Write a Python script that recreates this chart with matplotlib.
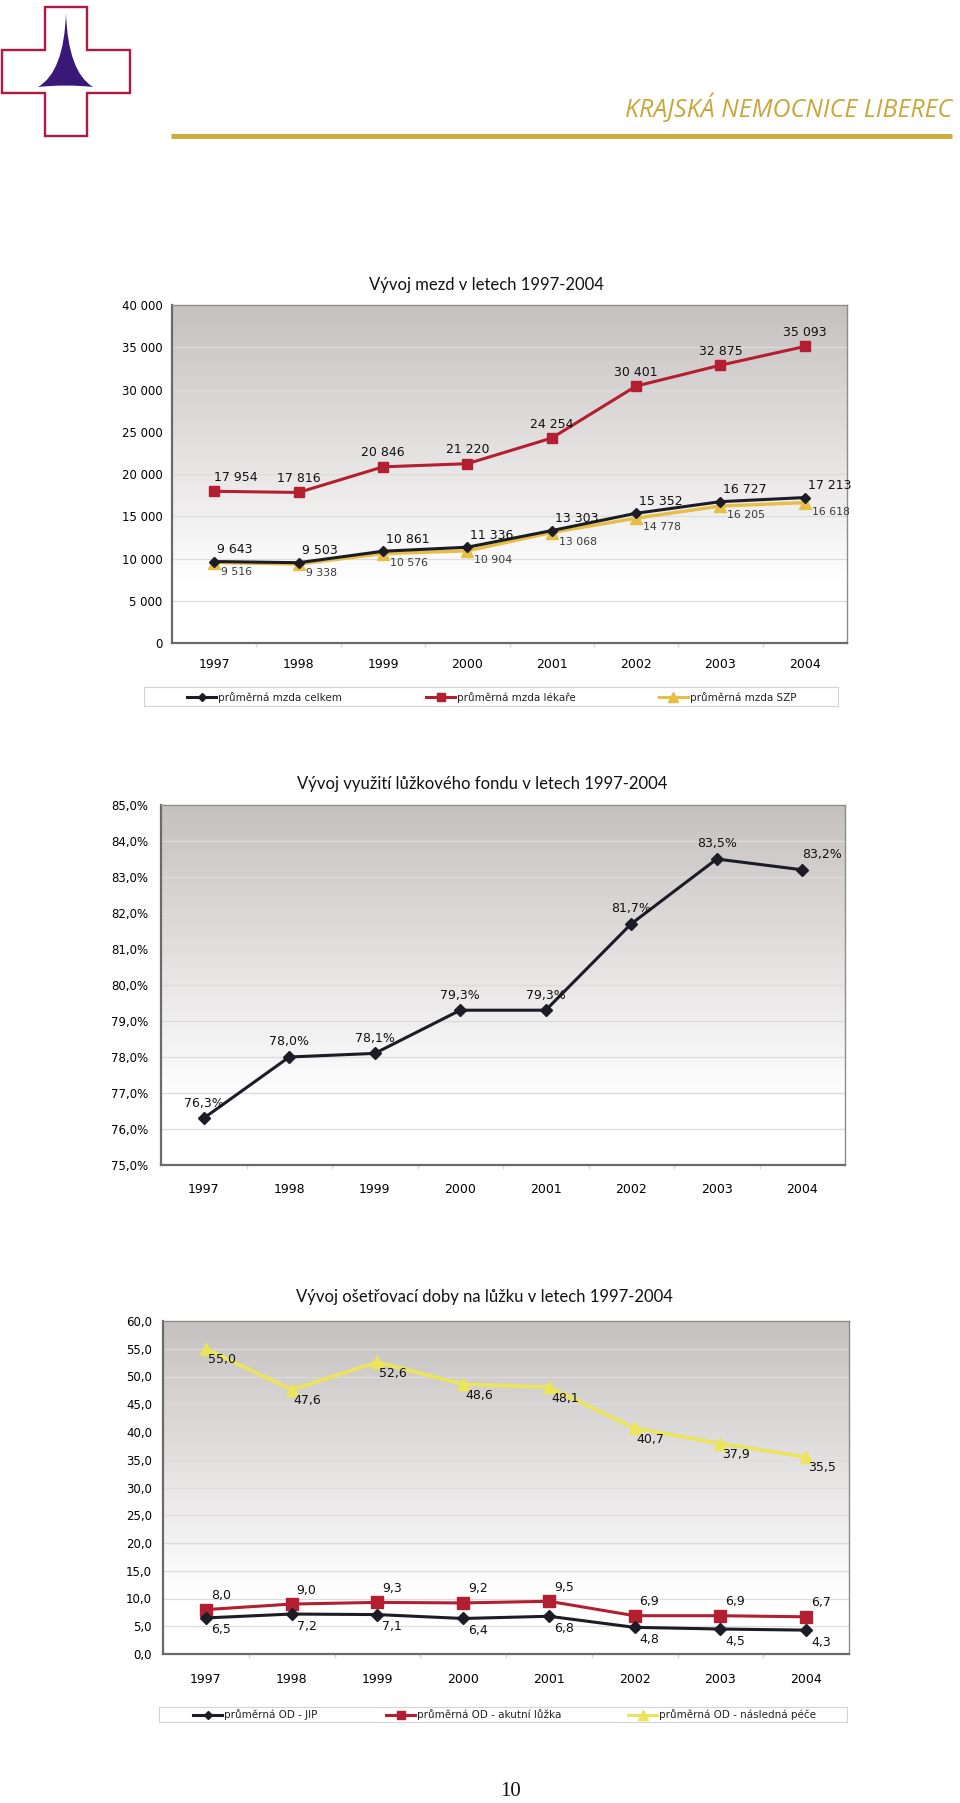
#!/usr/bin/env python
# -*- coding: utf-8 -*-

"""Three yearly charts of Krajska nemocnice Liberec (page 10)."""

import numpy as np
import matplotlib
matplotlib.use("Agg")
import matplotlib.pyplot as plt
from matplotlib.colors import LinearSegmentedColormap
from matplotlib.patches import Polygon, PathPatch
from matplotlib.path import Path
from matplotlib.ticker import FuncFormatter, FixedLocator

plt.rcParams['font.family'] = ['DejaVu Sans']

W, H = 960, 1803

years = ['1997', '1998', '1999', '2000', '2001', '2002', '2003', '2004']

# chart 1 - wages
mzda_celkem = [9643, 9503, 10861, 11336, 13303, 15352, 16727, 17213]
mzda_lekare = [17954, 17816, 20846, 21220, 24254, 30401, 32875, 35093]
mzda_szp = [9516, 9338, 10576, 10904, 13068, 14778, 16205, 16618]

# chart 2 - bed occupancy (%)
vyuziti = [76.3, 78.0, 78.1, 79.3, 79.3, 81.7, 83.5, 83.2]

# chart 3 - average treatment time
od_jip = [6.5, 7.2, 7.1, 6.4, 6.8, 4.8, 4.5, 4.3]
od_akutni = [8.0, 9.0, 9.3, 9.2, 9.5, 6.9, 6.9, 6.7]
od_nasledna = [55.0, 47.6, 52.6, 48.6, 48.1, 40.7, 37.9, 35.5]

BLACK = '#1c1c26'
RED = '#b31f30'
GOLD = '#e6bd45'
YELLOW = '#ece45a'

bg_cmap = LinearSegmentedColormap.from_list(
    'bg', [(0, '#c5c1c0'), (0.82, '#ffffff'), (1, '#ffffff')])


def rect(l, t, r, b):
    """Pixel box -> figure fraction rect."""
    return [l / W, 1 - b / H, (r - l) / W, (b - t) / H]


def thousands(v, pos=None):
    return f'{int(round(v)):,}'.replace(',', ' ')


def comma1(v, pos=None):
    return f'{v:.1f}'.replace('.', ',')


def percent1(v, pos=None):
    return comma1(v) + '%'


def setup_axes(box, ylim, ystep, fmt, ypad, xpad):
    ax = fig.add_axes(rect(*box))
    ax.imshow(np.linspace(0, 1, 256).reshape(-1, 1), extent=[0, 1, 0, 1],
              transform=ax.transAxes, aspect='auto', cmap=bg_cmap, zorder=0)
    x = np.arange(len(years))
    ax.set_xlim(-0.5, len(years) - 0.5)
    ax.set_ylim(*ylim)
    ax.set_xticks(x)
    ax.set_xticklabels(years, fontsize=9)
    ax.xaxis.set_minor_locator(FixedLocator(np.arange(0.5, len(years) - 1, 1)))
    ax.tick_params(axis='x', which='major', length=0, pad=xpad)
    ax.tick_params(axis='x', which='minor', length=3, color='#d8d8d8', width=1)
    ax.set_yticks(np.arange(ylim[0], ylim[1] + ystep / 2, ystep))
    ax.yaxis.set_major_formatter(FuncFormatter(fmt))
    ax.tick_params(axis='y', length=0, pad=ypad, labelsize=8.5)
    ax.grid(axis='y', color='#dcdcdc', lw=0.9, zorder=1)
    ax.set_axisbelow(True)
    for side in ['left', 'bottom']:
        ax.spines[side].set_color('#6a6a6a')
        ax.spines[side].set_linewidth(1.6)
    for side in ['top', 'right']:
        ax.spines[side].set_color('#8c8c8c')
        ax.spines[side].set_linewidth(1.0)
    return ax, x


def label_points(ax, x, y, fmt, dx, dy, ha='left', size=9, color='#111111',
                 first_ha=None, last_dx=None):
    for i, (xi, yi) in enumerate(zip(x, y)):
        h = ha
        ox = dx
        if i == 0 and first_ha:
            h = first_ha
        if i == len(x) - 1 and last_dx is not None:
            ox = last_dx
        ax.annotate(fmt(yi), (xi, yi), xytext=(ox, dy),
                    textcoords='offset pixels', ha=h, va='center',
                    fontsize=size, color=color, zorder=6)


def legend_box(box, entries):
    """entries: (sample_left_px, text, color, marker, msize)"""
    lg = fig.add_axes(rect(*box))
    lg.set_xlim(box[0], box[2])
    lg.set_ylim(0, 1)
    lg.set_xticks([])
    lg.set_yticks([])
    for s in lg.spines.values():
        s.set_color('#d4d4d4')
        s.set_linewidth(0.8)
    for x0, text, color, marker, ms in entries:
        lg.plot([x0, x0 + 29], [0.5, 0.5], color=color, lw=2.2)
        lg.plot([x0 + 14.5], [0.5], color=color, marker=marker, ms=ms, lw=0)
        lg.text(x0 + 31, 0.47, text, fontsize=7.5, va='center', ha='left',
                color='#222222')


fig = plt.figure(figsize=(W / 100, H / 100), dpi=100)

# ---- page overlay: logo, header, titles, page number
ov = fig.add_axes([0, 0, 1, 1])
ov.set_xlim(0, W)
ov.set_ylim(H, 0)
ov.axis('off')

cross = [(45, 7), (87, 7), (87, 50), (130, 50), (130, 93), (87, 93),
         (87, 136), (45, 136), (45, 93), (2, 93), (2, 50), (45, 50)]
ov.add_patch(Polygon(cross, closed=True, fc='white', ec='#b5173f', lw=1.7))
spire = Path([(38, 87), (64, 72), (66, 13), (68, 72), (93, 87),
              (66, 84), (38, 87)],
             [Path.MOVETO, Path.CURVE3, Path.CURVE3, Path.CURVE3, Path.CURVE3,
              Path.CURVE3, Path.CURVE3])
ov.add_patch(PathPatch(spire, fc='#3a1878', ec='none'))
ov.plot([171, 952], [135.5, 135.5], color='#cfac3c', lw=3.6,
        solid_capstyle='butt')
ov.text(952, 108, 'KRAJSKÁ NEMOCNICE LIBEREC', ha='right', va='center',
        fontsize=18, style='italic', family='Open Sans', color='#c9a63a')

title_kw = dict(ha='center', va='center', fontsize=12, family='Lato',
                color='#111111')
ov.text(486, 285, 'Vývoj mezd v letech 1997-2004', **title_kw)
ov.text(482, 784, 'Vývoj využití lůžkového fondu v letech 1997-2004', **title_kw)
ov.text(484, 1297, 'Vývoj ošetřovací doby na lůžku v letech 1997-2004',
        **title_kw)
ov.text(511, 1791, '10', ha='center', va='center', fontsize=15,
        family='Liberation Serif', color='#111111')

# ---- chart 1
ax1, x = setup_axes((172, 305, 847, 643), (0, 40000), 5000, thousands, 7, 11)
ax1.plot(x, mzda_lekare, color=RED, lw=2.2, marker='s', ms=7.5, zorder=4)
ax1.plot(x, mzda_szp, color=GOLD, lw=2.4, marker='^', ms=8, zorder=4)
ax1.plot(x, mzda_celkem, color=BLACK, lw=2.2, marker='D', ms=5, zorder=5)
label_points(ax1, x, mzda_celkem, thousands, 3, 12, ha='left', size=9)
label_points(ax1, x, mzda_lekare, thousands, 0, 14, ha='center', size=9,
             first_ha='left')
label_points(ax1, x, mzda_szp, thousands, 7, -9, ha='left', size=7.8,
             color='#3a3a3a')
legend_box((144, 687, 838, 706), [
    (187, 'průměrná mzda celkem', BLACK, 'D', 4.5),
    (426, 'průměrná mzda lékaře', RED, 's', 6),
    (659, 'průměrná mzda SZP', GOLD, '^', 6.5),
])

# ---- chart 2
ax2, x = setup_axes((161, 805, 845, 1165), (75, 85), 1, percent1, 9, 13)
ax2.plot(x, vyuziti, color=BLACK, lw=2.2, marker='D', ms=6, zorder=5)
label_points(ax2, x, vyuziti, percent1, 0, 15, ha='center', size=9,
             last_dx=20)

# ---- chart 3
ax3, x = setup_axes((163, 1321, 849, 1654), (0, 60), 5, comma1, 8, 14)
ax3.plot(x, od_nasledna, color=YELLOW, lw=2.6, marker='^', ms=9, zorder=4)
ax3.plot(x, od_akutni, color=RED, lw=2.2, marker='s', ms=8, zorder=4)
ax3.plot(x, od_jip, color=BLACK, lw=2.2, marker='D', ms=6, zorder=5)
label_points(ax3, x, od_nasledna, comma1, 2, -11, ha='left', size=9)
label_points(ax3, x, od_akutni, comma1, 5, 14, ha='left', size=9)
label_points(ax3, x, od_jip, comma1, 5, -12, ha='left', size=9)
legend_box((159, 1707, 847, 1722), [
    (193, 'průměrná OD - JIP', BLACK, 'D', 4.5),
    (386, 'průměrná OD - akutní lůžka', RED, 's', 6),
    (628, 'průměrná OD - následná péče', YELLOW, '^', 6.5),
])

fig.savefig('out.png', dpi=100)
